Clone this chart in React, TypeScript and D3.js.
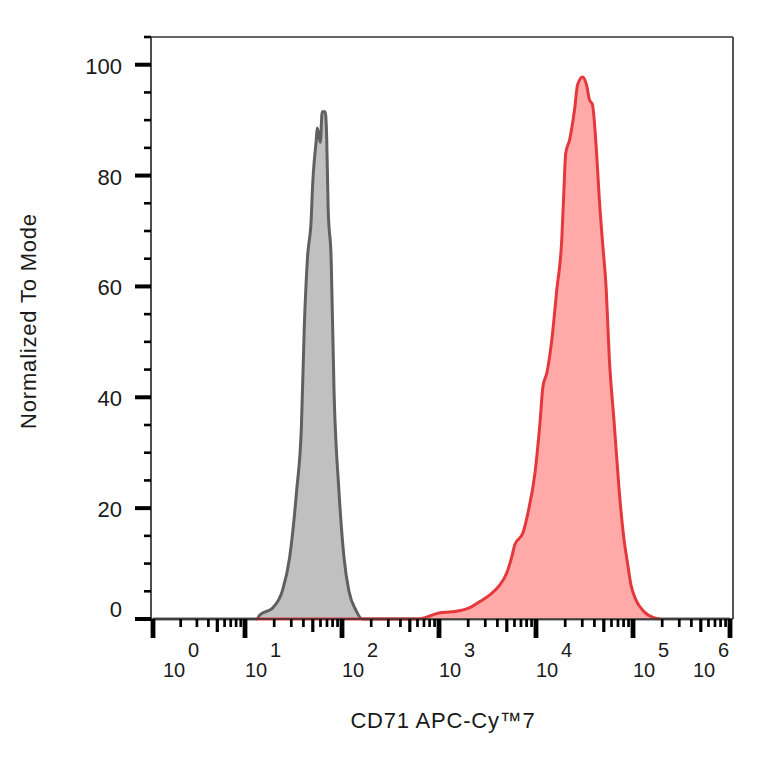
import { useMemo } from "react";
import * as d3 from "d3";

const WIDTH = 764;
const HEIGHT = 764;

// control (unstained) histogram, intensity vs % of mode
const grayIntensity = [1, 13.2, 14.2, 19.3, 24.4, 28.8, 34.0, 38.2, 40.9, 44.0, 48.3, 49.4, 54.3, 55.6, 59.7, 62.5, 67.1, 69.5, 72.0, 77.3, 82.8, 93.1, 105, 118, 139, 161, 1e6];
const grayCount = [0, 0, 0.7, 2, 5.2, 11, 23, 35, 53, 65, 72.6, 77, 86.5, 88.6, 86, 91.5, 91.5, 87, 74, 65, 41, 23, 11, 5, 1.6, 0, 0];

// CD71 APC-Cy7 stained histogram
const redIntensity = [13, 622, 700, 1000, 1366, 2053, 2610, 3318, 4217, 4990, 5623, 6043, 7325, 8254, 9772, 10990, 11780, 12940, 14560, 16380, 18420, 19310, 20240, 22250, 25010, 26840, 30200, 33140, 35560, 38180, 41920, 45000, 48310, 52990, 56890, 63970, 71930, 80880, 86860, 95430, 107500, 130200, 165600, 186600];
const redCount = [0, 0, 0.2, 1.1, 1.3, 2, 3.1, 4.3, 6.1, 8.3, 11.2, 13.4, 15.5, 19.1, 26.4, 35.4, 41.9, 44.4, 50.4, 59.4, 68.4, 76.5, 84, 86.5, 92, 96.4, 97.8, 96.4, 93.7, 92.8, 84.7, 75.6, 68.4, 59.4, 47.3, 35.4, 23.3, 14.3, 10.6, 6.1, 3.4, 1.3, 0.2, 0];

const xDecades = [0, 1, 2, 3, 4, 5, 6];
const yMajorTicks = [0, 20, 40, 60, 80, 100];
const yMinorTicks = [5, 10, 15, 25, 30, 35, 45, 50, 55, 65, 70, 75, 85, 90, 95, 105];

const FONT = "'Liberation Sans', Arial, sans-serif";

export default function App() {
  const left = 151;
  const right = 733;
  const top = 37;
  const bottom = 619;

  const xScale = useMemo(
    () => d3.scaleLog().domain([1, 10, 1e6]).range([153, 245, 730]),
    []
  );
  const yScale = useMemo(() => d3.scaleLinear().domain([0, 105]).range([bottom, top]), []);

  const gray = grayIntensity.map((v, i) => [v, grayCount[i]] as [number, number]);
  const red = redIntensity.map((v, i) => [v, redCount[i]] as [number, number]);

  const area = d3
    .area<[number, number]>()
    .x((d) => xScale(d[0]))
    .y0(yScale(0))
    .y1((d) => yScale(d[1]))
    .curve(d3.curveMonotoneX);
  const line = d3
    .line<[number, number]>()
    .x((d) => xScale(d[0]))
    .y((d) => yScale(d[1]))
    .curve(d3.curveMonotoneX);

  // minor ticks inside each decade
  const minorX: { x: number; mid: boolean }[] = [];
  xDecades.slice(0, -1).forEach((d) => {
    for (let k = 2; k <= 9; k++) {
      minorX.push({ x: xScale(k * Math.pow(10, d)), mid: k === 5 });
    }
  });

  return (
    <svg
      width={WIDTH}
      height={HEIGHT}
      style={{ position: "absolute", left: 0, top: 0, background: "#fff" }}
      fontFamily={FONT}
    >
      <rect width={WIDTH} height={HEIGHT} fill="#fff" />

      {/* histograms */}
      <path d={area(gray) ?? ""} fill="#c0c0c0" />
      <path d={line(gray) ?? ""} fill="none" stroke="#606060" strokeWidth={3} strokeLinejoin="round" />
      <path d={area(red) ?? ""} fill="#ffa9a9" />
      <path d={line(red) ?? ""} fill="none" stroke="#e5383c" strokeWidth={3} strokeLinejoin="round" />

      {/* frame */}
      <line x1={left} x2={right} y1={top} y2={top} stroke="#333" strokeWidth={1.4} />
      <line x1={right} x2={right} y1={top} y2={bottom} stroke="#555" strokeWidth={2} />
      <line x1={left} x2={right} y1={bottom} y2={bottom} stroke="#333" strokeWidth={1.6} />
      <line x1={left} x2={left} y1={top} y2={bottom} stroke="#222" strokeWidth={1.6} />

      {/* y axis */}
      {yMinorTicks.map((t) => (
        <line key={"ym" + t} x1={144} x2={left} y1={yScale(t)} y2={yScale(t)} stroke="#000" strokeWidth={2.6} />
      ))}
      {yMajorTicks.map((t) => (
        <g key={"yM" + t}>
          <line x1={135} x2={left} y1={yScale(t)} y2={yScale(t)} stroke="#000" strokeWidth={4} />
          <text
            x={122}
            y={yScale(t) + (t === 0 ? -2 : 9)}
            textAnchor="end"
            fontSize={22}
            fill="#1a1a1a"
          >
            {t}
          </text>
        </g>
      ))}

      {/* x axis */}
      {minorX.map((m, i) => (
        <line
          key={"xm" + i}
          x1={m.x}
          x2={m.x}
          y1={bottom}
          y2={m.mid ? 632 : 627}
          stroke="#000"
          strokeWidth={m.mid ? 3.2 : 2.7}
        />
      ))}
      {xDecades.map((d, i) => {
        const x = xScale(Math.pow(10, d));
        const last = i === xDecades.length - 1;
        const lx = i === 0 ? x + 10 : last ? x - 37 : x;
        return (
          <g key={"xM" + d}>
            <line x1={x} x2={x} y1={bottom} y2={638} stroke="#000" strokeWidth={4.8} />
            <text x={lx} y={677} fontSize={20} fill="#1a1a1a">
              10
            </text>
            <text x={lx + 25} y={657} fontSize={20} fill="#1a1a1a">
              {d}
            </text>
          </g>
        );
      })}

      {/* titles */}
      <text x={443} y={728} textAnchor="middle" fontSize={22} fill="#1a1a1a" letterSpacing={0.8}>
        CD71 APC-Cy™7
      </text>
      <text
        transform="translate(36,321) rotate(-90)"
        textAnchor="middle"
        fontSize={22}
        fill="#1a1a1a"
        letterSpacing={0.8}
      >
        Normalized To Mode
      </text>
    </svg>
  );
}
